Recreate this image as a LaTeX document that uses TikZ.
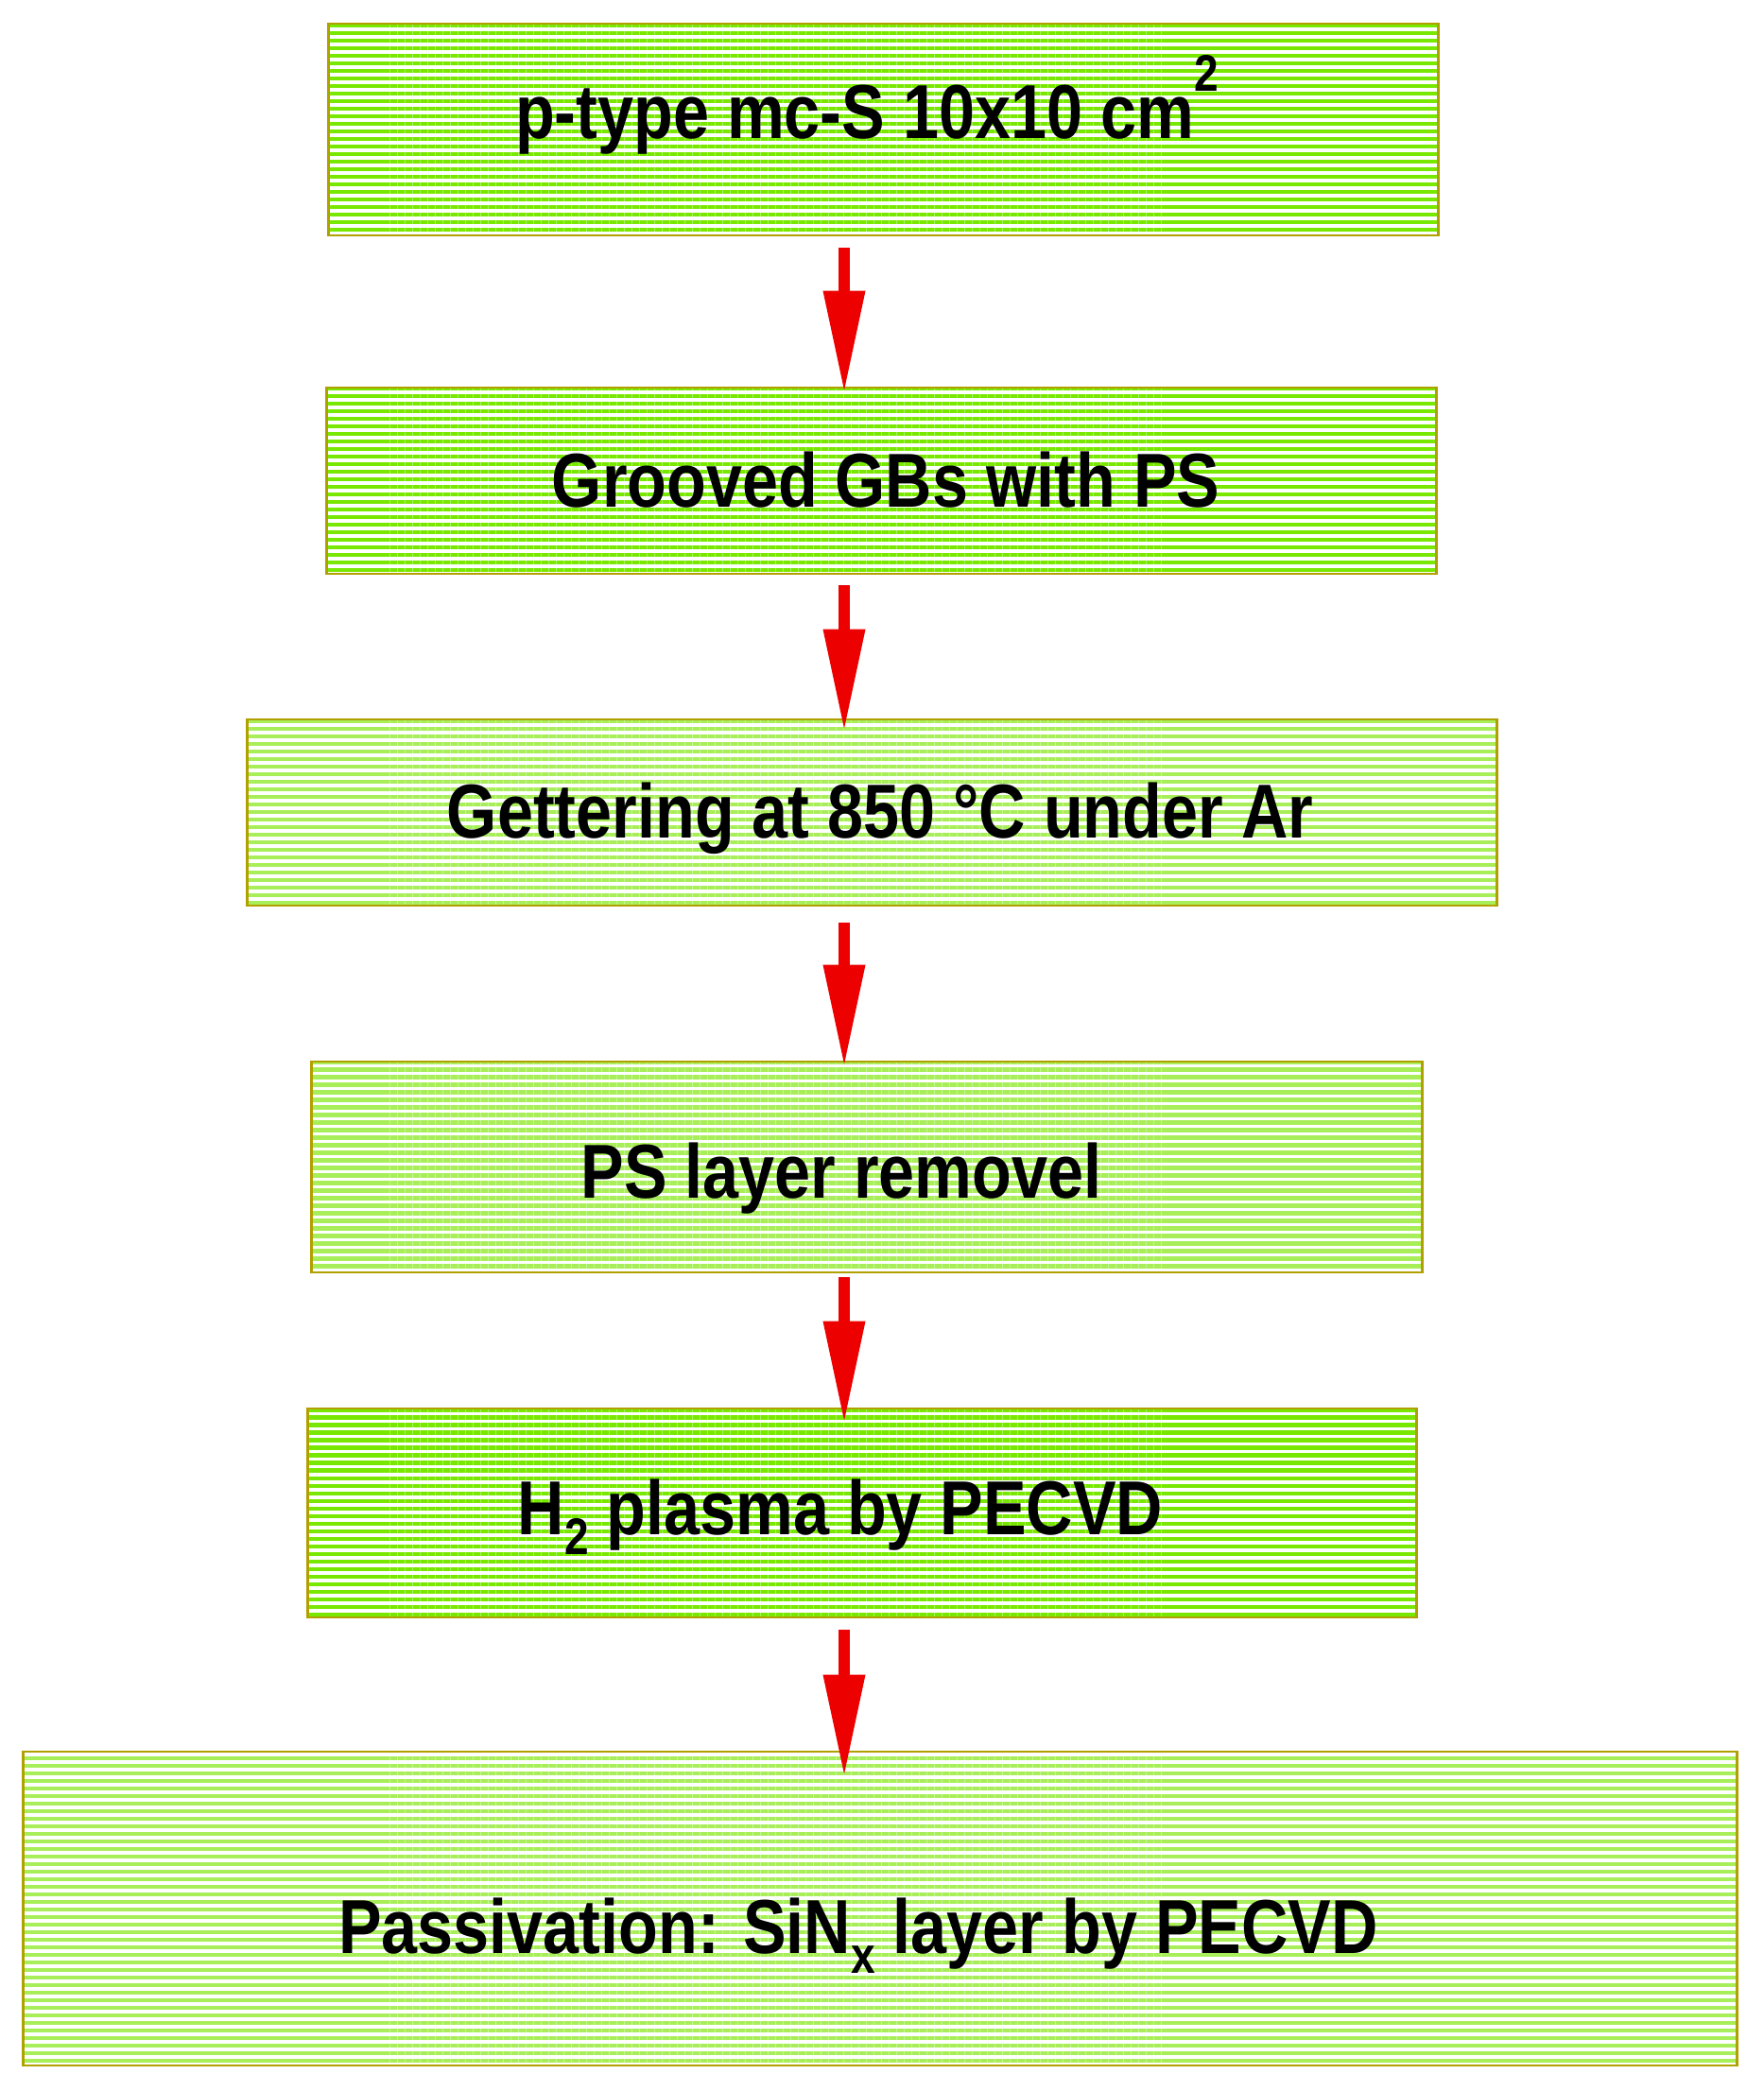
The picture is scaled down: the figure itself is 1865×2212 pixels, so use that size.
\documentclass[tikz,border=0pt]{standalone}
\usepackage{fontspec}
\setmainfont{Liberation Sans}[FakeStretch=0.845]
\usepackage{tikz}
\usetikzlibrary{arrows.meta, patterns.meta, positioning}
\definecolor{stripgreen}{RGB}{120, 232, 0}
\definecolor{palegreen}{RGB}{168, 238, 88}
\definecolor{edgeolive}{RGB}{176, 160, 0}
\definecolor{arrowred}{RGB}{237, 0, 0}
\newcommand{\upidx}[1]{\raisebox{0.62em}{\fontsize{15.5pt}{16pt}\selectfont #1}}
\newcommand{\lowidx}[1]{\raisebox{-0.26em}{\fontsize{15.5pt}{16pt}\selectfont #1}}

\begin{document}
\begin{tikzpicture}[x=0.01cm, y=-0.01cm,
    stepbox/.style={draw=edgeolive, line width=0.025cm, inner sep=0pt},
    solidbox/.style={stepbox, pattern={Lines[angle=0, distance=0.08cm, line width=0.042cm]}, pattern color=stripgreen},
    palebox/.style={stepbox, pattern={Lines[angle=0, distance=0.08cm, line width=0.045cm]}, pattern color=palegreen},
    steptext/.style={anchor=base, inner sep=0pt, font=\fontsize{23pt}{27pt}\selectfont\bfseries},
    flowarrow/.style={arrowred, line width=0.12cm, -{Triangle[length=1.05cm, width=0.45cm, line width=0pt]}}]
    \useasboundingbox (0,0) rectangle (1865,2212);
    \coordinate (axis) at (893,0);
    \node[solidbox, minimum width=11.73cm, minimum height=2.24cm] (substrate) at (934.5,137) {};
    \node[solidbox, minimum width=11.73cm, minimum height=1.97cm] (groove) at (932.5,508.5) {};
    \node[palebox, minimum width=13.21cm, minimum height=1.97cm] (getter) at (922.5,859.5) {};
    \node[palebox, minimum width=11.74cm, minimum height=2.23cm] (removal) at (917,1234.5) {};
    \node[solidbox, minimum width=11.72cm, minimum height=2.21cm] (plasma) at (912,1600.5) {};
    \node[palebox, minimum width=18.12cm, minimum height=3.32cm] (passiv) at (931,2019) {};
    \node[steptext] (substratetext) at (917,147) {p-type mc-S 10x10 cm\upidx{2}};
    \node[steptext] (groovetext) at (937,536) {Grooved GBs with PS};
    \node[steptext] (gettertext) at (931,886) {Gettering at 850 °C under Ar};
    \node[steptext] (removaltext) at (890,1267) {PS layer removel};
    \node[steptext] (plasmatext) at (889,1623) {H\lowidx{2} plasma by PECVD};
    \node[steptext] (passivtext) at (908,2066) {Passivation: SiN\lowidx{x} layer by PECVD};
    \foreach \from/\to/\gap/\over in {substrate/groove/0.11/0.04, groove/getter/0.11/0.12,
        getter/removal/0.16/0.04, removal/plasma/0.04/0.14, plasma/passiv/0.12/0.25}
    {
        \draw[flowarrow, shorten <=\gap cm, shorten >=-\over cm] (\from.south -| axis) -- (\to.north -| axis);
    }
\end{tikzpicture}
\end{document}
